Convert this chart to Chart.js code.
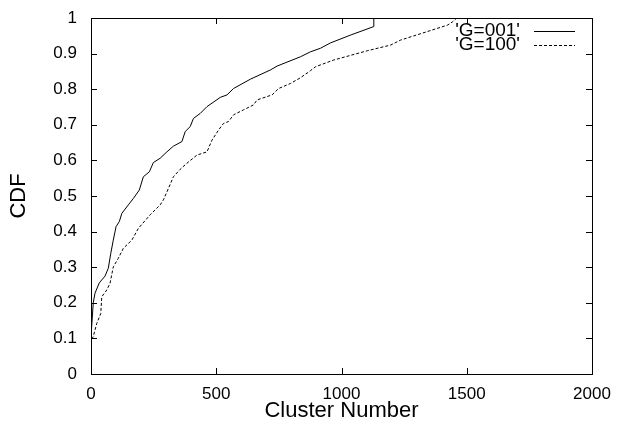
<!DOCTYPE html>
<html>
<head>
<meta charset="utf-8">
<script src="https://cdn.jsdelivr.net/npm/chart.js@4/dist/chart.umd.min.js"></script>
<style>
  html, body { margin: 0; padding: 0; background: #fff; }
  #wrap { width: 622px; height: 428px; }
</style>
</head>
<body>
<div id="wrap"><canvas id="cdfChart" width="622" height="428"></canvas></div>
<script>
// Dados
const g001X = [0, 0, 9, 16, 33, 56, 69, 79, 89, 100, 113, 123, 149, 169, 193, 209, 233, 249, 276, 303, 329, 363, 376, 396, 409, 436, 463, 516, 543, 569, 636, 716, 743, 836, 876, 916, 956, 1036, 1129, 1129];
const g001Y = [0, 0.105, 0.2, 0.227, 0.256, 0.275, 0.297, 0.339, 0.376, 0.414, 0.428, 0.451, 0.475, 0.493, 0.517, 0.554, 0.568, 0.594, 0.606, 0.624, 0.640, 0.653, 0.681, 0.695, 0.718, 0.732, 0.751, 0.777, 0.784, 0.802, 0.828, 0.854, 0.865, 0.891, 0.905, 0.915, 0.930, 0.952, 0.976, 1.0];

const g100X = [0, 0, 9, 23, 39, 43, 63, 76, 89, 109, 129, 163, 189, 236, 276, 289, 309, 329, 356, 383, 423, 463, 483, 509, 529, 549, 569, 609, 649, 663, 723, 749, 796, 836, 876, 896, 969, 1103, 1196, 1236, 1343, 1423, 1443, 1460];
const g100Y = [0, 0.095, 0.105, 0.142, 0.170, 0.217, 0.236, 0.255, 0.301, 0.325, 0.353, 0.376, 0.409, 0.447, 0.475, 0.489, 0.521, 0.554, 0.575, 0.592, 0.615, 0.624, 0.657, 0.685, 0.704, 0.709, 0.728, 0.742, 0.756, 0.770, 0.784, 0.802, 0.816, 0.832, 0.852, 0.863, 0.882, 0.908, 0.924, 0.938, 0.962, 0.980, 0.989, 1.0];

const xTicks = [0, 500, 1000, 1500, 2000];
const yTicks = [0, 0.1, 0.2, 0.3, 0.4, 0.5, 0.6, 0.7, 0.8, 0.9, 1];
const xTickLabels = ['0', '500', '1000', '1500', '2000'];
const yTickLabels = ['0', '0.1', '0.2', '0.3', '0.4', '0.5', '0.6', '0.7', '0.8', '0.9', '1'];
const seriesNames = ["'G=001'", "'G=100'"];

const toPoints = (xs, ys) => xs.map((x, i) => ({ x: x, y: ys[i] }));
const fontFamily = '"Liberation Sans", Arial, Helvetica, sans-serif';

// Moldura, ticks para dentro e legenda no estilo gnuplot
const gnuplotFrame = {
    id: 'gnuplotFrame',
    afterDraw(chart) {
        const { ctx, chartArea: a, scales } = chart;
        ctx.save();
        ctx.strokeStyle = '#000';
        ctx.lineWidth = 1;
        ctx.setLineDash([]);
        ctx.strokeRect(a.left + 0.5, a.top + 0.5, a.right - a.left, a.bottom - a.top);
        const len = 6;
        ctx.beginPath();
        xTicks.forEach(v => {
            const px = Math.round(scales.x.getPixelForValue(v)) + 0.5;
            ctx.moveTo(px, a.bottom); ctx.lineTo(px, a.bottom - len);
            ctx.moveTo(px, a.top); ctx.lineTo(px, a.top + len);
        });
        yTicks.forEach(v => {
            const py = Math.round(scales.y.getPixelForValue(v)) + 0.5;
            ctx.moveTo(a.left, py); ctx.lineTo(a.left + len, py);
            ctx.moveTo(a.right, py); ctx.lineTo(a.right - len, py);
        });
        ctx.stroke();

        // Legenda
        ctx.font = '19px ' + fontFamily;
        ctx.fillStyle = '#000';
        ctx.textAlign = 'right';
        ctx.textBaseline = 'middle';
        chart.data.datasets.forEach((ds, i) => {
            const y = 31 + i * 14;
            ctx.fillText(ds.label, 520, y);
            ctx.beginPath();
            ctx.setLineDash(ds.borderDash || []);
            ctx.moveTo(534, y + 0.5);
            ctx.lineTo(575, y + 0.5);
            ctx.stroke();
        });
        ctx.restore();
    }
};

const ctx = document.getElementById('cdfChart').getContext('2d');
new Chart(ctx, {
    type: 'scatter',
    data: {
        datasets: [{
            label: seriesNames[0],
            data: toPoints(g001X, g001Y),
            showLine: true,
            borderColor: '#000',
            borderWidth: 1,
            pointRadius: 0,
            tension: 0
        }, {
            label: seriesNames[1],
            data: toPoints(g100X, g100Y),
            showLine: true,
            borderColor: '#000',
            borderWidth: 1,
            borderDash: [3, 2],
            pointRadius: 0,
            tension: 0
        }]
    },
    options: {
        responsive: false,
        animation: false,
        layout: { padding: { top: 18, right: 30, left: 0, bottom: 0 } },
        plugins: {
            legend: { display: false },
            tooltip: { enabled: false }
        },
        scales: {
            x: {
                type: 'linear',
                min: 0,
                max: 2000,
                afterBuildTicks: axis => { axis.ticks = xTicks.map(v => ({ value: v })); },
                afterFit: axis => { axis.height = 54; },
                grid: { display: false },
                border: { display: false },
                ticks: {
                    color: '#000', padding: 2, maxRotation: 0,
                    font: { size: 17, family: fontFamily },
                    callback: (v, i) => xTickLabels[i]
                },
                title: {
                    display: true,
                    text: 'Cluster Number',
                    color: '#000',
                    font: { size: 22, family: fontFamily },
                    padding: { top: 0, bottom: 4 }
                }
            },
            y: {
                type: 'linear',
                min: 0,
                max: 1,
                afterBuildTicks: axis => { axis.ticks = yTicks.map(v => ({ value: v })); },
                afterFit: axis => { axis.width = 91; },
                grid: { display: false },
                border: { display: false },
                ticks: {
                    color: '#000', padding: 6,
                    font: { size: 17, family: fontFamily },
                    callback: (v, i) => yTickLabels[i]
                },
                title: {
                    display: true,
                    text: 'CDF',
                    color: '#000',
                    font: { size: 22, family: fontFamily },
                    padding: { top: 6, bottom: 0 }
                }
            }
        }
    },
    plugins: [gnuplotFrame]
});
</script>
</body>
</html>
